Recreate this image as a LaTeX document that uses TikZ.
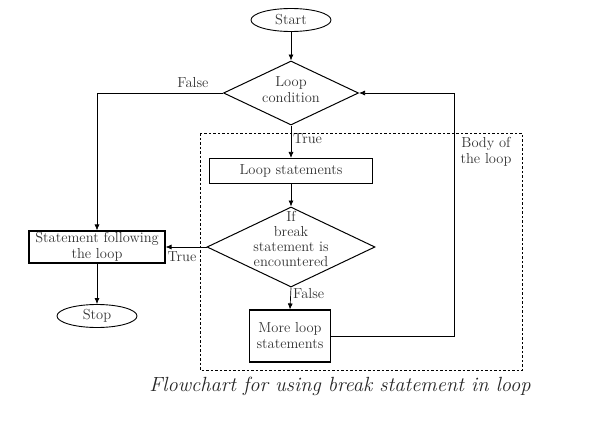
\documentclass[tikz,border=0pt]{standalone}
\usepackage{tikz}
\usetikzlibrary{shapes.geometric,positioning,arrows.meta}

\begin{document}
\begin{tikzpicture}[x = 1pt, y = -1pt,
    every node/.style = {font = \fontsize{14.5}{16}\selectfont, text = black!80},
    terminal/.style = {draw, ellipse, line width = 0.9pt, inner sep = 0pt,
      minimum width = 80pt, minimum height = 23pt},
    process/.style = {draw, rectangle, line width = 1.1pt, inner sep = 1pt, align = center},
    decision/.style = {draw, diamond, line width = 1pt, inner sep = 0pt},
    arrow/.style = {line width = 0.7pt, -{Latex[length = 6pt, width = 5pt]}}
  ]
  \useasboundingbox (0, 0) rectangle (590, 423);
  % nodes
  \node [terminal] (start) at (291, 20) {Start};
  \node [decision, minimum width = 135pt, minimum height = 64pt] (cond) at (291, 93) {};
  \node [align = center] (condtext) at (291, 90) {Loop\\condition};
  \node [process, minimum width = 163pt, minimum height = 25pt] (body) at (291, 171) {Loop statements};
  \node [decision, minimum width = 168pt, minimum height = 80pt] (brk) at (291, 247) {};
  \node [align = center, font = \fontsize{14.5}{14.7}\selectfont] (brktext) at (291, 239)
    {If\\break\\statement is\\encountered};
  \node [process, minimum width = 81pt, minimum height = 52pt] (more) at (290, 336) {More loop\\statements};
  \node [process, minimum width = 136pt, minimum height = 32pt] (follow) at (97, 247) {Statement following\\the loop};
  \node [terminal] (stop) at (97, 316) {Stop};
  % labels
  \node [right, inner sep = 1pt] (ltrue) at (292, 139) {True};
  \node [right, inner sep = 1pt] (lfalse) at (292, 294) {False};
  \node [inner sep = 1pt] (ufalse) at (193, 83) {False};
  \node [inner sep = 1pt] (utrue) at (182, 257) {True};
  \node [align = center, font = \fontsize{14.5}{15.5}\selectfont] (bodylbl) at (486, 152) {Body of\\the loop};
  % body of the loop
  \draw [line width = 0.9pt, dash pattern = on 2.5pt off 2pt] (200, 133) rectangle (522, 370);
  % connectors
  \coordinate (back) at (454, 336);
  \draw [arrow] (start) -- (cond);
  \draw [arrow] (cond.south) -- (body.north);
  \draw [arrow] (body.south) -- (brk.north);
  \draw [arrow] (brk.south) -- (more.north);
  \draw [arrow] (more.east) -- (back) |- (cond.east);
  \draw [arrow] (cond.west) -| (follow.north);
  \draw [arrow] (brk.west) -- (follow.east);
  \draw [arrow] (follow.south) -- (stop.north);
  % caption
  \node [font = \fontsize{20.5}{22}\selectfont\itshape, text = black!85] (caption) at (340, 386)
    {Flowchart for using break statement in loop};
\end{tikzpicture}
\end{document}
